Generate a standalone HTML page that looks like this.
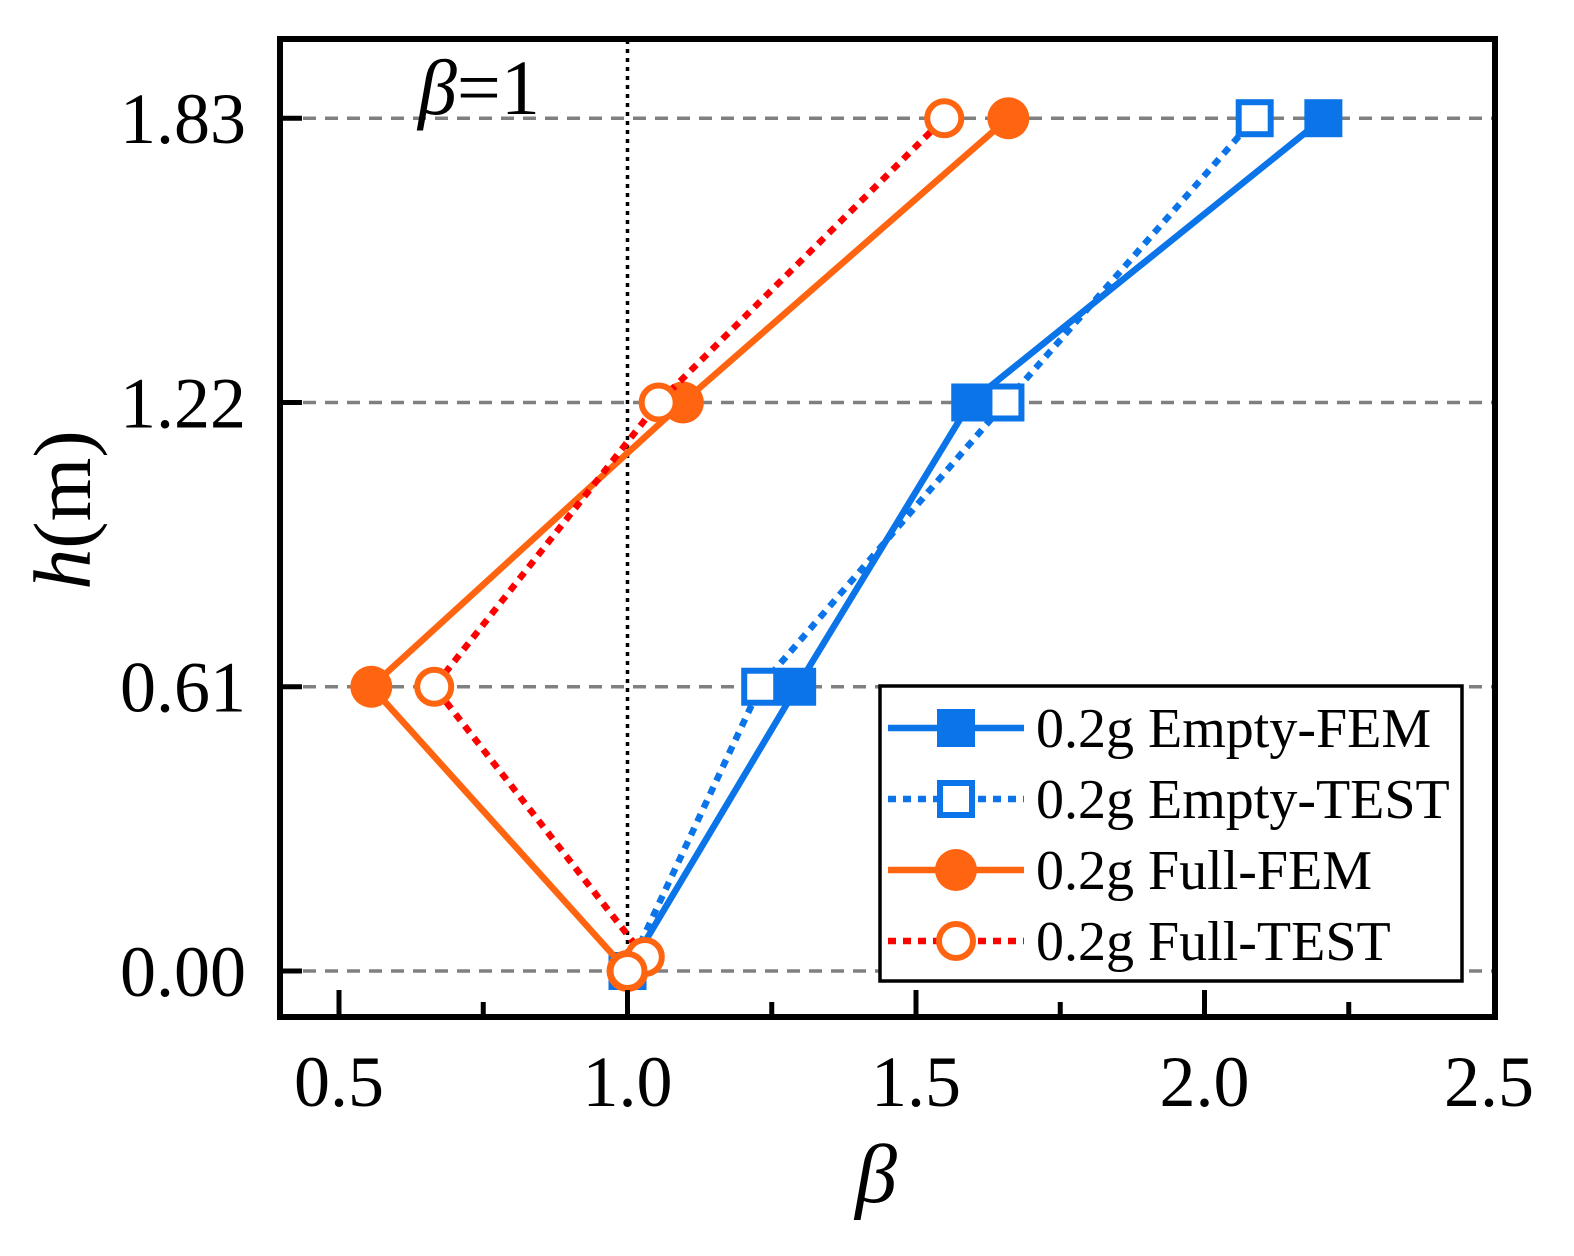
<!DOCTYPE html>
<html><head><meta charset="utf-8"><style>
body{margin:0;background:#fff}
svg text{font-family:"Liberation Serif",serif}
</style></head><body>
<svg id="chart" width="1574" height="1251" viewBox="0 0 1574 1251" xmlns="http://www.w3.org/2000/svg">
<g id="grid"></g><g id="series"></g><g id="axes"></g>
</svg>
<script>
const hLevels=[0,0.61,1.22,1.83];
const hTickLabels=["0.00","0.61","1.22","1.83"];
const xTicks=[0.5,1.0,1.5,2.0,2.5];
const xTickLabels=["0.5","1.0","1.5","2.0","2.5"];
const emptyFem=[1.0,1.294,1.594,2.206];
const emptyTest=[1.0,1.23,1.655,2.087];
const fullFem=[1.0,0.556,1.096,1.66];
const fullTest=[1.03,0.665,1.054,1.549];
const fullTestH=[0.03,0.61,1.22,1.83];
const seriesNames=["0.2g Empty-FEM","0.2g Empty-TEST","0.2g Full-FEM","0.2g Full-TEST"];

const NS="http://www.w3.org/2000/svg";
const X=v=>339+(v-0.5)*577;
const Y=v=>971-v*466;
function mk(tag,attrs,parent,txt){const e=document.createElementNS(NS,tag);for(const k in attrs)e.setAttribute(k,attrs[k]);if(txt!==undefined)e.textContent=txt;parent.appendChild(e);return e;}
const grid=document.getElementById('grid'),ser=document.getElementById('series'),ax=document.getElementById('axes');

hLevels.forEach((h,i)=>{
 const l=mk('line',{x1:281,x2:1494,y1:Y(h),y2:Y(h),stroke:'#808080','stroke-width':3.5,'stroke-dasharray':'13,9'},grid);
 
 
});
const ref=mk('line',{x1:X(1),x2:X(1),y1:40,y2:1015,stroke:'#000','stroke-width':3.5,'stroke-dasharray':'4,5'},grid);


const refLbl=mk('text',{x:418,y:114,'font-size':78},grid);


mk('tspan',{'font-style':'italic'},refLbl,'β');mk('tspan',{},refLbl,'=1');

function marker(g,type,x,y,name){
 let m;
 if(type==='sqF')m=mk('rect',{x:x-19,y:y-19,width:38,height:38,fill:'#0a74e8'},g);
 if(type==='sqO')m=mk('rect',{x:x-16,y:y-16,width:32,height:32,fill:'#fff',stroke:'#0a74e8','stroke-width':6},g);
 if(type==='ciF')m=mk('circle',{cx:x,cy:y,r:21,fill:'#ff6410'},g);
 if(type==='ciO')m=mk('circle',{cx:x,cy:y,r:17,fill:'#fff',stroke:'#ff6410','stroke-width':6},g);
 
 
}
const defs=[
 {xs:emptyFem,hs:hLevels,c:'#0a74e8',d:'',m:'sqF',n:'empty-fem'},
 {xs:emptyTest,hs:hLevels,c:'#0a74e8',d:'8,7',m:'sqO',n:'empty-test'},
 {xs:fullFem,hs:hLevels,c:'#ff6410',d:'',m:'ciF',n:'full-fem'},
 {xs:fullTest,hs:fullTestH,c:'#f00',d:'8,7',m:'ciO',n:'full-test'}];
defs.forEach(s=>{
 const g=mk('g',{},ser);
 
 
 const p=mk('polyline',{points:s.xs.map((v,i)=>X(v)+','+Y(s.hs[i])).join(' '),fill:'none',stroke:s.c,'stroke-width':6.5,'stroke-dasharray':s.d},g);
 
 
 s.xs.forEach((v,i)=>marker(g,s.m,X(v),Y(s.hs[i]),s.n+'-point'));
});
marker(ser,'ciO',X(1.0),Y(0),'full-test-origin-point');

const lg=mk('g',{},ax);


mk('rect',{x:880,y:686,width:582,height:295,fill:'#fff',stroke:'#000','stroke-width':3.5},lg);
defs.forEach((s,i)=>{
 const y=728+i*71;
 const e=mk('g',{},lg);
 
 
 mk('line',{x1:888,x2:1024,y1:y,y2:y,stroke:s.c,'stroke-width':6.5,'stroke-dasharray':s.d},e);
 marker(e,s.m,956,y,'legend-marker');
 mk('text',{x:1036,y:y+19,'font-size':56},e,seriesNames[i]);
});

const fr=mk('rect',{x:280,y:39,width:1215,height:978,fill:'none',stroke:'#000','stroke-width':6},ax);


for(let v=0.5;v<=2.26;v+=0.25){
 const major=Math.abs(v*2-Math.round(v*2))<1e-6;
 mk('line',{x1:X(v),x2:X(v),y1:1017,y2:major?990:1002,stroke:'#000','stroke-width':5},ax);
}
xTicks.forEach((v,i)=>{
 const t=mk('text',{x:X(v)+(v===2.5?-4:0),y:1106,'font-size':72,'text-anchor':'middle'},ax,xTickLabels[i]);
 
 
});
hLevels.forEach((h,i)=>{
 mk('line',{x1:280,x2:302,y1:Y(h),y2:Y(h),stroke:'#000','stroke-width':5},ax);
 const t=mk('text',{x:246,y:Y(h)+25,'font-size':72,'text-anchor':'end'},ax,hTickLabels[i]);
 
 
});
const xt=mk('text',{x:876,y:1202,'font-size':84,'font-style':'italic','text-anchor':'middle'},ax,'β');


const yt=mk('text',{x:0,y:0,'font-size':82,'text-anchor':'middle',transform:'translate(90,510) rotate(-90)'},ax);


mk('tspan',{'font-style':'italic'},yt,'h');mk('tspan',{},yt,'(m)');
</script>
</body></html>
